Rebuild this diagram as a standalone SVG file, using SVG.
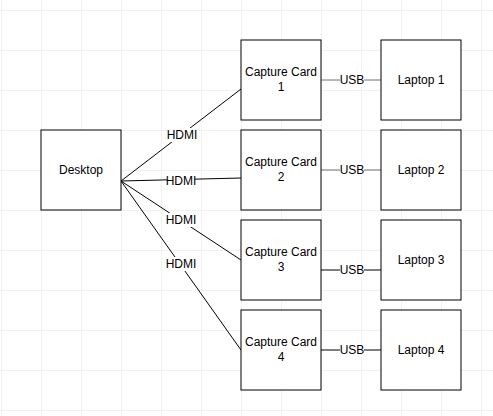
<svg xmlns="http://www.w3.org/2000/svg" width="493" height="416" viewBox="0 0 493 416">
<defs>
<pattern id="grid" x="1" y="10" width="40" height="40" patternUnits="userSpaceOnUse">
<path d="M0 0H40M0 0V40" fill="none" stroke="#e4e4e4" stroke-width="1"/>
</pattern>
<style>
.box{fill:#fff;stroke:#000;stroke-width:1}
.t{font-family:"Liberation Sans",Arial,sans-serif;font-size:12px;fill:#000;text-anchor:middle}
.e{fill:none;stroke:#000;stroke-width:1}
.g{stroke:#707070}
.lb{fill:#fff}
</style>
</defs>
<rect width="493" height="416" fill="#fff"/>
<rect width="493" height="416" fill="url(#grid)"/>
<g id="connectors">
<path class="e" d="M121 181L241 89"/>
<path class="e" d="M121 181L241 178"/>
<path class="e" d="M121 181L241 260"/>
<path class="e" d="M121 181L241 350"/>
<path class="e g" d="M321 80H381"/>
<path class="e g" d="M321 170H381"/>
<path class="e" d="M321 270H381"/>
<path class="e" d="M321 350H381"/>
<rect class="lb" x="168" y="128" width="28" height="14"/>
<text class="t" x="182" y="139">HDMI</text>
<rect class="lb" x="167" y="174" width="28" height="14"/>
<text class="t" x="181" y="185">HDMI</text>
<rect class="lb" x="167" y="213" width="28" height="14"/>
<text class="t" x="181" y="224">HDMI</text>
<rect class="lb" x="167" y="257" width="28" height="14"/>
<text class="t" x="181" y="268">HDMI</text>
<rect class="lb" x="340" y="73" width="24" height="14"/>
<text class="t" x="352" y="84">USB</text>
<rect class="lb" x="340" y="163" width="24" height="14"/>
<text class="t" x="352" y="174">USB</text>
<rect class="lb" x="340" y="263" width="24" height="14"/>
<text class="t" x="352" y="274">USB</text>
<rect class="lb" x="340" y="343" width="24" height="14"/>
<text class="t" x="352" y="354">USB</text>
</g>
<g id="desktop">
<rect class="box" x="41" y="130" width="80" height="80"/>
<text class="t" x="81" y="174">Desktop</text>
</g>
<g id="capture1">
<rect class="box" x="241" y="40" width="80" height="80"/>
<text class="t" x="281" y="76">Capture Card</text>
<text class="t" x="281" y="91">1</text>
</g>
<g id="capture2">
<rect class="box" x="241" y="130" width="80" height="80"/>
<text class="t" x="281" y="166">Capture Card</text>
<text class="t" x="281" y="181">2</text>
</g>
<g id="capture3">
<rect class="box" x="241" y="220" width="80" height="80"/>
<text class="t" x="281" y="256">Capture Card</text>
<text class="t" x="281" y="271">3</text>
</g>
<g id="capture4">
<rect class="box" x="241" y="310" width="80" height="80"/>
<text class="t" x="281" y="346">Capture Card</text>
<text class="t" x="281" y="361">4</text>
</g>
<g id="laptop1">
<rect class="box" x="381" y="40" width="80" height="80"/>
<text class="t" x="421" y="84">Laptop 1</text>
</g>
<g id="laptop2">
<rect class="box" x="381" y="130" width="80" height="80"/>
<text class="t" x="421" y="174">Laptop 2</text>
</g>
<g id="laptop3">
<rect class="box" x="381" y="220" width="80" height="80"/>
<text class="t" x="421" y="264">Laptop 3</text>
</g>
<g id="laptop4">
<rect class="box" x="381" y="310" width="80" height="80"/>
<text class="t" x="421" y="354">Laptop 4</text>
</g>
</svg>
